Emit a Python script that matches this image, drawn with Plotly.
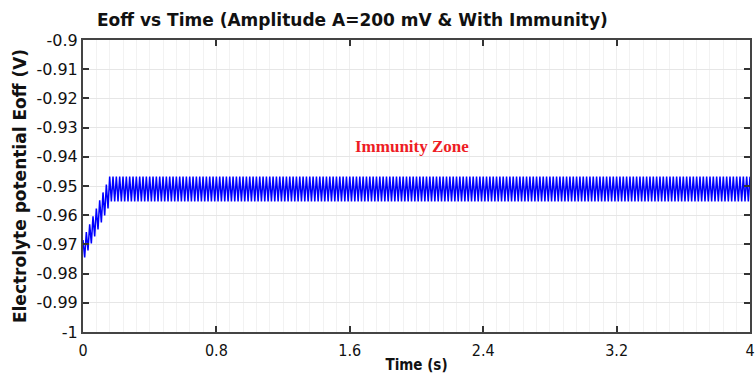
import plotly.graph_objects as go

# ---- data ----
sample_step_s = 0.01  # half an oscillation period (peak -> trough)

# Eoff samples (V), alternating peak / trough, starting at t = 0 s
eoff_values = [
    -0.9685, -0.9745, -0.9658, -0.9721, -0.9631, -0.9697, -0.9604, -0.9673,  # t 0.00-0.07
    -0.9577, -0.9649, -0.9549, -0.9625, -0.9522, -0.9601, -0.9495, -0.9577,  # t 0.08-0.15
    -0.9468, -0.9553,                                                        # t 0.16-0.17
    -0.9468, -0.9553, -0.9468, -0.9553, -0.9468, -0.9553, -0.9468, -0.9553, -0.9468, -0.9553, -0.9468, -0.9553, -0.9468, -0.9553, -0.9468, -0.9553,  # 0.18
    -0.9468, -0.9553, -0.9468, -0.9553, -0.9468, -0.9553, -0.9468, -0.9553, -0.9468, -0.9553, -0.9468, -0.9553, -0.9468, -0.9553, -0.9468, -0.9553,  # 0.34
    -0.9468, -0.9553, -0.9468, -0.9553, -0.9468, -0.9553, -0.9468, -0.9553, -0.9468, -0.9553, -0.9468, -0.9553, -0.9468, -0.9553, -0.9468, -0.9553,  # 0.50
    -0.9468, -0.9553, -0.9468, -0.9553, -0.9468, -0.9553, -0.9468, -0.9553, -0.9468, -0.9553, -0.9468, -0.9553, -0.9468, -0.9553, -0.9468, -0.9553,  # 0.66
    -0.9468, -0.9553, -0.9468, -0.9553, -0.9468, -0.9553, -0.9468, -0.9553, -0.9468, -0.9553, -0.9468, -0.9553, -0.9468, -0.9553, -0.9468, -0.9553,  # 0.82
    -0.9468, -0.9553, -0.9468, -0.9553, -0.9468, -0.9553, -0.9468, -0.9553, -0.9468, -0.9553, -0.9468, -0.9553, -0.9468, -0.9553, -0.9468, -0.9553,  # 0.98
    -0.9468, -0.9553, -0.9468, -0.9553, -0.9468, -0.9553, -0.9468, -0.9553, -0.9468, -0.9553, -0.9468, -0.9553, -0.9468, -0.9553, -0.9468, -0.9553,  # 1.14
    -0.9468, -0.9553, -0.9468, -0.9553, -0.9468, -0.9553, -0.9468, -0.9553, -0.9468, -0.9553, -0.9468, -0.9553, -0.9468, -0.9553, -0.9468, -0.9553,  # 1.30
    -0.9468, -0.9553, -0.9468, -0.9553, -0.9468, -0.9553, -0.9468, -0.9553, -0.9468, -0.9553, -0.9468, -0.9553, -0.9468, -0.9553, -0.9468, -0.9553,  # 1.46
    -0.9468, -0.9553, -0.9468, -0.9553, -0.9468, -0.9553, -0.9468, -0.9553, -0.9468, -0.9553, -0.9468, -0.9553, -0.9468, -0.9553, -0.9468, -0.9553,  # 1.62
    -0.9468, -0.9553, -0.9468, -0.9553, -0.9468, -0.9553, -0.9468, -0.9553, -0.9468, -0.9553, -0.9468, -0.9553, -0.9468, -0.9553, -0.9468, -0.9553,  # 1.78
    -0.9468, -0.9553, -0.9468, -0.9553, -0.9468, -0.9553, -0.9468, -0.9553, -0.9468, -0.9553, -0.9468, -0.9553, -0.9468, -0.9553, -0.9468, -0.9553,  # 1.94
    -0.9468, -0.9553, -0.9468, -0.9553, -0.9468, -0.9553, -0.9468, -0.9553, -0.9468, -0.9553, -0.9468, -0.9553, -0.9468, -0.9553, -0.9468, -0.9553,  # 2.10
    -0.9468, -0.9553, -0.9468, -0.9553, -0.9468, -0.9553, -0.9468, -0.9553, -0.9468, -0.9553, -0.9468, -0.9553, -0.9468, -0.9553, -0.9468, -0.9553,  # 2.26
    -0.9468, -0.9553, -0.9468, -0.9553, -0.9468, -0.9553, -0.9468, -0.9553, -0.9468, -0.9553, -0.9468, -0.9553, -0.9468, -0.9553, -0.9468, -0.9553,  # 2.42
    -0.9468, -0.9553, -0.9468, -0.9553, -0.9468, -0.9553, -0.9468, -0.9553, -0.9468, -0.9553, -0.9468, -0.9553, -0.9468, -0.9553, -0.9468, -0.9553,  # 2.58
    -0.9468, -0.9553, -0.9468, -0.9553, -0.9468, -0.9553, -0.9468, -0.9553, -0.9468, -0.9553, -0.9468, -0.9553, -0.9468, -0.9553, -0.9468, -0.9553,  # 2.74
    -0.9468, -0.9553, -0.9468, -0.9553, -0.9468, -0.9553, -0.9468, -0.9553, -0.9468, -0.9553, -0.9468, -0.9553, -0.9468, -0.9553, -0.9468, -0.9553,  # 2.90
    -0.9468, -0.9553, -0.9468, -0.9553, -0.9468, -0.9553, -0.9468, -0.9553, -0.9468, -0.9553, -0.9468, -0.9553, -0.9468, -0.9553, -0.9468, -0.9553,  # 3.06
    -0.9468, -0.9553, -0.9468, -0.9553, -0.9468, -0.9553, -0.9468, -0.9553, -0.9468, -0.9553, -0.9468, -0.9553, -0.9468, -0.9553, -0.9468, -0.9553,  # 3.22
    -0.9468, -0.9553, -0.9468, -0.9553, -0.9468, -0.9553, -0.9468, -0.9553, -0.9468, -0.9553, -0.9468, -0.9553, -0.9468, -0.9553, -0.9468, -0.9553,  # 3.38
    -0.9468, -0.9553, -0.9468, -0.9553, -0.9468, -0.9553, -0.9468, -0.9553, -0.9468, -0.9553, -0.9468, -0.9553, -0.9468, -0.9553, -0.9468, -0.9553,  # 3.54
    -0.9468, -0.9553, -0.9468, -0.9553, -0.9468, -0.9553, -0.9468, -0.9553, -0.9468, -0.9553, -0.9468, -0.9553, -0.9468, -0.9553, -0.9468, -0.9553,  # 3.70
    -0.9468, -0.9553, -0.9468, -0.9553, -0.9468, -0.9553, -0.9468, -0.9553, -0.9468, -0.9553, -0.9468, -0.9553, -0.9468, -0.9553,  # 3.86-3.99
    -0.9468,  # 4.00
]
time_s = [round(i * sample_step_s, 4) for i in range(len(eoff_values))]

x_tick_vals = [0, 0.8, 1.6, 2.4, 3.2, 4]
x_tick_text = ["0", "0.8", "1.6", "2.4", "3.2", "4"]
y_tick_vals = [-0.9, -0.91, -0.92, -0.93, -0.94, -0.95, -0.96, -0.97, -0.98, -0.99, -1.0]
y_tick_text = ["-0.9", "-0.91", "-0.92", "-0.93", "-0.94", "-0.95", "-0.96", "-0.97", "-0.98", "-0.99", "-1"]

zone_label = "Immunity Zone"
zone_x = 1.97
zone_y = -0.9363

FIG_W, FIG_H = 755, 378

fig = go.Figure()
fig.add_trace(go.Scatter(
    x=time_s, y=eoff_values, mode="lines",
    line=dict(color="#0000ff", width=1.5),
    showlegend=False, hoverinfo="skip",
))

fig.add_annotation(
    x=zone_x, y=zone_y, xref="x", yref="y", text="<b>" + zone_label + "</b>",
    showarrow=False,
    font=dict(family="Liberation Serif", size=17, color="#ee1c24"),
)

fig.update_layout(
    width=FIG_W, height=FIG_H,
    margin=dict(l=83, r=5, t=40, b=46, autoexpand=False),
    paper_bgcolor="white", plot_bgcolor="white",
    font=dict(family="DejaVu Sans", color="#111111"),
    title=dict(
        text="<b>Eoff vs Time (Amplitude A=200 mV & With Immunity)</b>",
        x=97 / FIG_W, xanchor="left", xref="container",
        y=1 - 20 / FIG_H, yanchor="middle", yref="container",
        font=dict(family="DejaVu Sans", size=17, color="#111111"),
    ),
)

fig.update_xaxes(
    range=[0, 4], tickvals=x_tick_vals, ticktext=x_tick_text,
    ticks="inside", ticklen=6, tickwidth=2, tickcolor="#333333",
    showline=True, linecolor="#444444", linewidth=2, mirror="ticks",
    showgrid=True, gridcolor="#eeeeee", gridwidth=1,
    minor=dict(dtick=0.08, showgrid=True, gridcolor="#f2f2f2", gridwidth=1, ticks=""),
    tickfont=dict(family="DejaVu Sans Condensed, DejaVu Sans", size=16, color="#111111"),
    ticklabelstandoff=3,
    title=dict(text="<b>Time (s)</b>", standoff=0,
               font=dict(family="DejaVu Sans Condensed, DejaVu Sans", size=15, color="#111111")),
    zeroline=False, automargin=False,
)
fig.update_yaxes(
    range=[-1.0, -0.9], tickvals=y_tick_vals, ticktext=y_tick_text,
    ticks="inside", ticklen=6, tickwidth=2, tickcolor="#333333",
    showline=True, linecolor="#444444", linewidth=2, mirror="ticks",
    showgrid=True, gridcolor="#e6e6e6", gridwidth=1,
    tickfont=dict(family="DejaVu Sans", size=16, color="#111111"),
    title=dict(text="<b>Electrolyte potential Eoff (V)</b>", standoff=5,
               font=dict(family="DejaVu Sans", size=17, color="#111111")),
    zeroline=False, automargin=False,
)

# remove the page's default body margin so the figure fills the window exactly
fig.write_html(
    "out.html",
    config={"displayModeBar": False},
    post_script="document.body.style.margin='0';document.body.style.overflow='hidden';",
)
